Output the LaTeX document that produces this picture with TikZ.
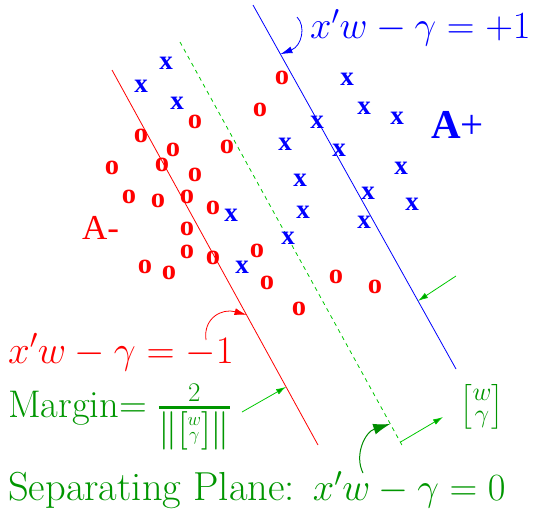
\RequirePackage{fix-cm}
\documentclass[tikz,border=0pt]{standalone}
\usepackage{amsmath}
\usepackage{fontspec}
\newfontfamily\mkfont{Liberation Serif}
\usetikzlibrary{arrows.meta,calc}
\definecolor{gtext}{RGB}{0,150,0}
\definecolor{gline}{RGB}{0,200,0}
\definecolor{gdark}{RGB}{0,140,0}
\newcommand{\wgmat}[2]{\left[\vcenter{\hbox{\fontsize{#1}{#2}\selectfont$\begin{array}{@{}c@{}}w\\ \gamma\end{array}$}}\right]}
\tikzset{
  omark/.style={text=red, font=\mkfont\bfseries\fontsize{28.5}{28}\selectfont, inner sep=0pt},
  xmark/.style={text=blue, font=\mkfont\bfseries\fontsize{27}{27}\selectfont, inner sep=0pt},
  lbl/.style={inner sep=0pt, anchor=base west, font=\fontsize{38.5}{44}\selectfont},
  plane/.style={line width=0.8pt},
  garrow/.style={draw=gline, line width=0.8pt, -{Latex[length=10pt,width=6pt,fill=gtext]}},
}
\begin{document}
\begin{tikzpicture}[x=1pt,y=-1pt]
\useasboundingbox (0,0) rectangle (536,512);
% planes
\coordinate (B1) at (253,5);   \coordinate (B2) at (456,369);
\coordinate (R1) at (112,70);  \coordinate (R2) at (318,445);
\coordinate (G1) at (180,42);  \coordinate (G2) at (403,447);
\draw[plane, blue] (B1) -- (B2);
\draw[plane, red] (R1) -- (R2);
\draw[plane, gline, dash pattern=on 4pt off 4pt] (G1) -- (G2);
% markers
\foreach \n/\p in {1/{282,78},2/{260,110},3/{195,122},4/{141,136},5/{173,150},6/{227,147},
  7/{112,168},8/{162,165},9/{195,175},10/{129,197},11/{158,201},12/{187,197},13/{213,208},
  14/{187,229},15/{187,252},16/{213,258},17/{257,251},18/{145,267},19/{169,273},20/{267,283},
  21/{336,277},22/{375,287},23/{299,309}}
  \node[omark] (o\n) at (\p) {o};
\foreach \n/\p in {1/{166,63},2/{141,86},3/{177,103},4/{347,79},5/{364,108},6/{397,118},
  7/{317,122},8/{285,144},9/{339,150},10/{401,168},11/{300,180},12/{368,193},13/{412,204},
  14/{303,212},15/{364,222},16/{231,215},17/{288,238},18/{242,267}}
  \node[xmark] (x\n) at (\p) {x};
% class labels
\node[inner sep=0pt, anchor=base west, text=blue, font=\mkfont\fontsize{41}{41}\selectfont] (Ap) at (431,138) {\textbf{A}+};
\node[inner sep=0pt, anchor=base west, text=red, font=\mkfont\fontsize{35}{35}\selectfont] (Am) at (82,239) {A-};
% equation labels
\node[lbl, text=blue] (eqp) at (310,38) {$x'w-\gamma=+1$};
\node[lbl, text=red, font=\fontsize{39}{44}\selectfont] (eqm) at (8,363) {$x'w-\gamma=-1$};
\node[lbl, text=gtext] (margin) at (8,417) {Margin$=\genfrac{}{}{2.5pt}{1}{2}{\left\|\wgmat{18.5}{15}\right\|}$};
\node[lbl, text=gtext] (sep) at (8,500) {{\fontsize{40.5}{44}\selectfont Separating Plane:}\hspace{18pt}$x'w-\gamma=0$};
\node[text=gtext, inner sep=0pt, font=\fontsize{37}{44}\selectfont] (wg) at (482,407) {$\wgmat{26}{22}$};
% arrow end points on planes
\coordinate (bA) at ($(B1)!0.135!(B2)$);
\coordinate (bB) at ($(B1)!0.813!(B2)$);
\coordinate (rA) at ($(R1)!0.653!(R2)$);
\coordinate (rB) at ($(R1)!0.845!(R2)$);
\coordinate (gA) at ($(G1)!0.943!(G2)$);
\coordinate (gB) at ($(G1)!0.988!(G2)$);
\coordinate (bS) at (456,276);
\coordinate (mS) at (242,412);
\coordinate (wE) at (443,417);
\coordinate (pS) at (297,17);
\coordinate (qS) at (206,340);
\coordinate (sS) at (363,473);
% arrows
\draw[blue, line width=0.8pt, -{Latex[length=12pt,width=7pt]}] (pS) .. controls (306,26) and (302,46) .. (bA);
\draw[red, line width=0.8pt, -{Latex[length=12pt,width=7pt]}] (qS) .. controls (203,318) and (222,308) .. (rA);
\draw[gdark, line width=1pt, -{Latex[length=17pt,width=11pt]}] (sS) .. controls (354,455) and (365,432) .. (gA);
\draw[garrow] (bS) -- (bB);
\draw[garrow] (mS) -- (rB);
\draw[garrow] (gB) -- (wE);
\end{tikzpicture}
\end{document}
